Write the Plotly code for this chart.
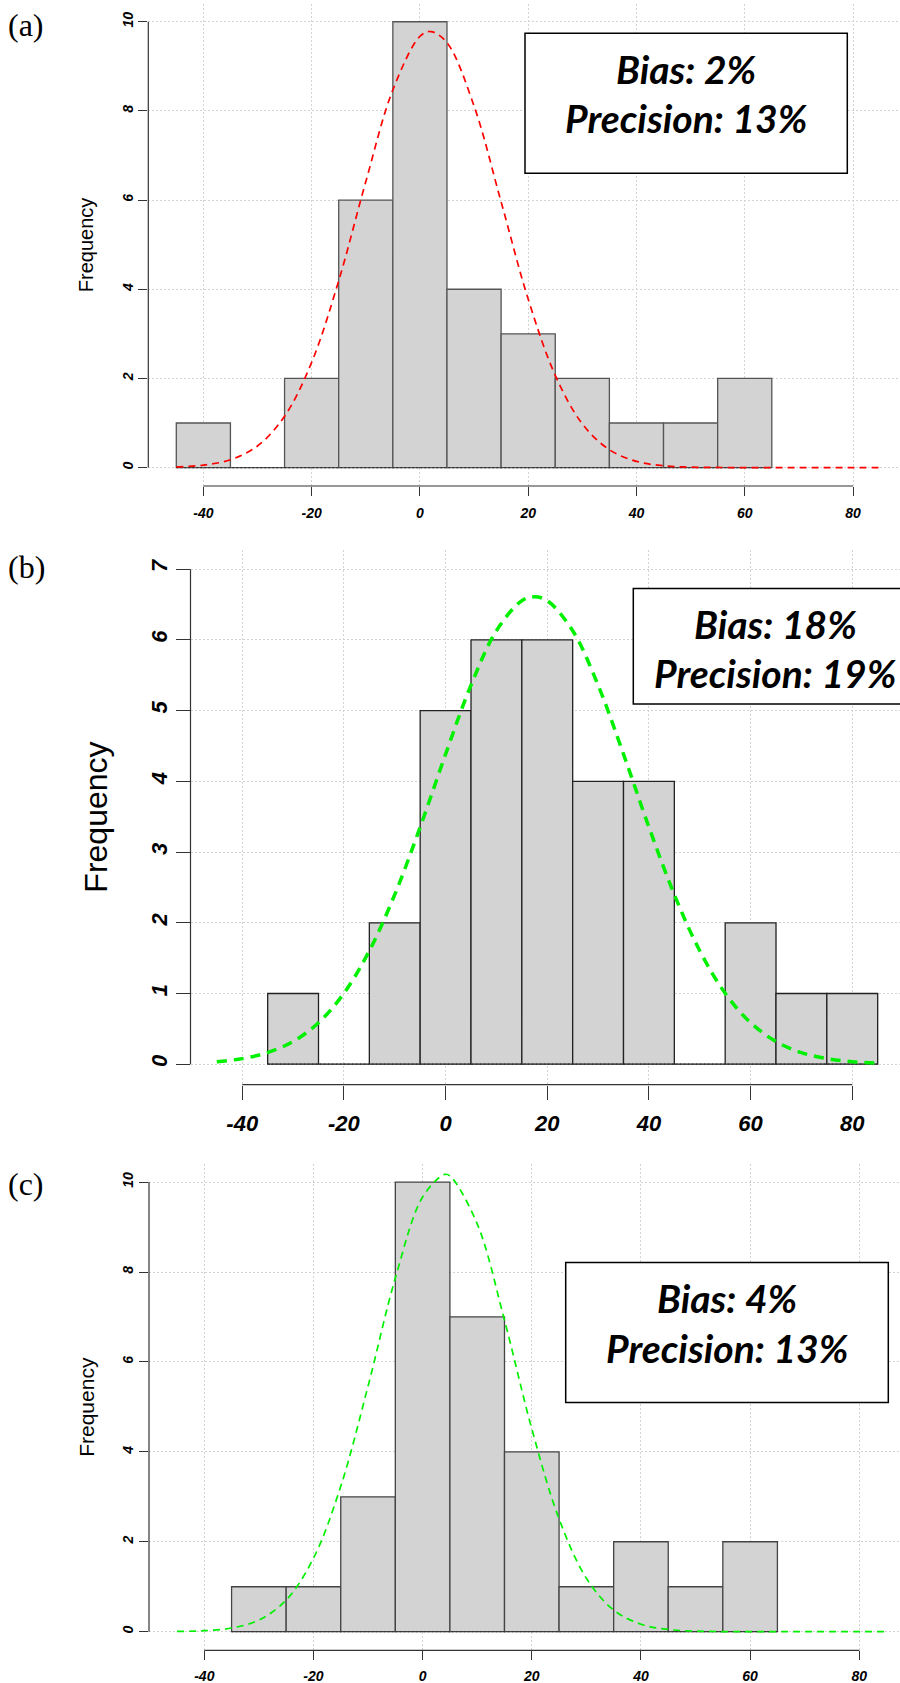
import plotly.graph_objects as go

W, H = 900, 1683

# ---------------- data ----------------
panel_labels = ["(a)", "(b)", "(c)"]
bias_text = ["Bias: 2%", "Bias: 18%", "Bias: 4%"]
precision_text = ["Precision: 13%", "Precision: 19%", "Precision: 13%"]

x_ticks = [-40, -20, 0, 20, 40, 60, 80]
x_tick_labels = ["-40", "-20", "0", "20", "40", "60", "80"]
y_ticks_a = [0, 2, 4, 6, 8, 10]
y_ticks_b = [0, 1, 2, 3, 4, 5, 6, 7]
y_ticks_c = [0, 2, 4, 6, 8, 10]

edges_a = [-45, -35, -25, -15, -5, 5, 15, 25, 35, 45, 55, 65]
counts_a = [1, 0, 2, 6, 10, 4, 3, 2, 1, 1, 2]
edges_b = [-35, -25, -15, -5, 5, 15, 25, 35, 45, 55, 65, 75, 85]
counts_b = [1, 0, 2, 5, 6, 6, 4, 4, 0, 2, 1, 1]
edges_c = [-35, -25, -15, -5, 5, 15, 25, 35, 45, 55, 65]
counts_c = [1, 1, 3, 10, 7, 4, 1, 2, 1, 2]

curve_a_x = [-45, -40, -35, -30, -25, -20, -15, -10, -5, 0, 2, 5, 10, 15, 20, 25, 30,
             35, 40, 45, 50, 55, 60, 65, 70, 75, 80, 85]
curve_a_y = [0.015, 0.055, 0.176, 0.484, 1.15, 2.36, 4.19, 6.41, 8.47, 9.67, 9.78, 9.53,
             8.11, 5.96, 3.78, 2.07, 0.98, 0.40, 0.14, 0.04, 0.01, 0.003, 0, 0, 0, 0, 0, 0]
curve_b_x = [-45, -40, -35, -30, -25, -20, -15, -10, -5, 0, 5, 10, 15, 17.5, 20, 25, 30,
             35, 40, 45, 50, 55, 60, 65, 70, 75, 80, 85]
curve_b_y = [0.035, 0.079, 0.164, 0.321, 0.587, 1.003, 1.604, 2.398, 3.353, 4.384, 5.361,
             6.130, 6.555, 6.61, 6.555, 6.130, 5.361, 4.384, 3.353, 2.398, 1.604, 1.003,
             0.587, 0.321, 0.164, 0.079, 0.035, 0.015]
curve_c_x = [-45, -40, -35, -30, -25, -20, -15, -10, -5, 0, 4, 5, 10, 15, 20, 25, 30,
             35, 40, 45, 50, 55, 60, 65, 70, 75, 80, 85]
curve_c_y = [0.005, 0.022, 0.081, 0.259, 0.704, 1.633, 3.233, 5.459, 7.865, 9.667, 10.17,
             10.138, 9.072, 6.927, 4.512, 2.508, 1.189, 0.481, 0.166, 0.049, 0.012, 0.003,
             0, 0, 0, 0, 0, 0]

# ---------------- styling / layout per panel ----------------
panels = [
    dict(edges=edges_a, counts=counts_a, cx=curve_a_x, cy=curve_a_y, yt=y_ticks_a,
         curve_color="#FF0000", curve_w=1.7, curve_dash="7px,5px", bar_line="#555555",
         xdom=(148.3, 900), xr=(-50.17, 88.68), ydom=(3.9, 486), yr=(-0.413, 10.40),
         tick_size=14, ticklen=9, xlab_pad=5, title_size=20, title_standoff=20,
         label_y=25, box=(525, 33.3, 847.3, 173.3), text_x=686, text_y=(69.2, 118)),
    dict(edges=edges_b, counts=counts_b, cx=curve_b_x, cy=curve_b_y, yt=y_ticks_b,
         curve_color="#00F000", curve_w=3.5, curve_dash="10px,7px", bar_line="#222222",
         xdom=(190.5, 900), xr=(-50.18, 89.39), ydom=(549.5, 1084.6), yr=(-0.2885, 7.279),
         tick_size=22, ticklen=14, xlab_pad=5, title_size=32, title_standoff=29,
         label_y=567, box=(633.3, 588.4, 912, 703.9), text_x=775, text_y=(624.5, 673)),
    dict(edges=edges_c, counts=counts_c, cx=curve_c_x, cy=curve_c_y, yt=y_ticks_c,
         curve_color="#00F000", curve_w=1.7, curve_dash="7px,5px", bar_line="#444444",
         xdom=(149, 900), xr=(-50.13, 87.46), ydom=(1164.1, 1650.3), yr=(-0.414, 10.40),
         tick_size=14, ticklen=9, xlab_pad=4, title_size=21, title_standoff=20,
         label_y=1184, box=(565.7, 1262.6, 888.3, 1402.6), text_x=727, text_y=(1298, 1347.6)),
]

fig = go.Figure()
shapes = []
annotations = []
layout_axes = {}

for i, p in enumerate(panels):
    n = "" if i == 0 else str(i + 1)
    xa, ya = "x" + n, "y" + n
    edges, counts = p["edges"], p["counts"]
    centers = [(edges[k] + edges[k + 1]) / 2 for k in range(len(counts))]
    widths = [edges[k + 1] - edges[k] for k in range(len(counts))]

    fig.add_trace(go.Bar(x=centers, y=counts, width=widths, xaxis=xa, yaxis=ya,
                         marker=dict(color="#D3D3D3", line=dict(color=p["bar_line"], width=1.3)),
                         hoverinfo="skip"))
    fig.add_trace(go.Scatter(x=[edges[0], edges[-1]], y=[0, 0], xaxis=xa, yaxis=ya, mode="lines",
                             line=dict(color="#333333", width=1.2, dash="2px,2px"),
                             hoverinfo="skip"))
    fig.add_trace(go.Scatter(x=p["cx"], y=p["cy"], xaxis=xa, yaxis=ya, mode="lines",
                             line=dict(color=p["curve_color"], width=p["curve_w"],
                                       dash=p["curve_dash"], shape="spline", smoothing=1.0),
                             hoverinfo="skip"))

    tickfont = dict(family="Liberation Sans, Arial", size=p["tick_size"], color="black",
                    weight="bold", style="italic")
    layout_axes["xaxis" + n] = dict(
        domain=[p["xdom"][0] / W, p["xdom"][1] / W], range=list(p["xr"]), anchor=ya,
        automargin=False,
        tickmode="array", tickvals=x_ticks, ticktext=x_tick_labels, tickfont=tickfont,
        ticks="outside", ticklen=p["ticklen"], tickwidth=1, tickcolor="#333333",
        ticklabelstandoff=p["xlab_pad"],
        showline=False, zeroline=False, showgrid=True, gridcolor="#D3D3D3",
        griddash="2px,2px", gridwidth=1, fixedrange=True)
    layout_axes["yaxis" + n] = dict(
        domain=[1 - p["ydom"][1] / H, 1 - p["ydom"][0] / H], range=list(p["yr"]), anchor=xa,
        automargin=False,
        tickmode="array", tickvals=p["yt"], ticktext=[str(v) for v in p["yt"]],
        tickfont=tickfont, tickangle=-90,
        ticks="outside", ticklen=p["ticklen"], tickwidth=1, tickcolor="#333333",
        showline=False, zeroline=False, showgrid=True, gridcolor="#D3D3D3",
        griddash="2px,2px", gridwidth=1, fixedrange=True,
        title=dict(text="Frequency", standoff=p["title_standoff"],
                   font=dict(family="Liberation Sans, Arial", size=p["title_size"], color="black")))

    # R-style axis lines spanning only the tick range
    shapes.append(dict(type="line", xref=xa, yref=ya + " domain", x0=x_ticks[0], x1=x_ticks[-1],
                       y0=0, y1=0, line=dict(color="#333333", width=1.2)))
    shapes.append(dict(type="line", xref=xa + " domain", yref=ya, x0=0, x1=0,
                       y0=p["yt"][0], y1=p["yt"][-1], line=dict(color="#333333", width=1.2)))

    # statistics box
    bx0, by0, bx1, by1 = p["box"]
    shapes.append(dict(type="rect", xref="paper", yref="paper", x0=bx0 / W, x1=bx1 / W,
                       y0=1 - by1 / H, y1=1 - by0 / H, fillcolor="white",
                       line=dict(color="black", width=1.5), layer="above"))
    for txt, ty in zip([bias_text[i], precision_text[i]], p["text_y"]):
        annotations.append(dict(text=txt, xref="paper", yref="paper",
                                x=p["text_x"] / W, y=1 - ty / H,
                                xanchor="center", yanchor="middle", showarrow=False,
                                font=dict(family="Lato, Open Sans, sans-serif", size=39,
                                          color="black", weight="bold", style="italic")))
    annotations.append(dict(text=panel_labels[i], xref="paper", yref="paper", x=6 / W,
                            y=1 - p["label_y"] / H, xanchor="left", yanchor="middle",
                            showarrow=False,
                            font=dict(family="Liberation Serif, Times New Roman", size=32,
                                      color="black")))

fig.update_layout(
    width=W, height=H, margin=dict(l=0, r=0, t=0, b=0),
    paper_bgcolor="white", plot_bgcolor="white", showlegend=False,
    shapes=shapes, annotations=annotations, **layout_axes)

# remove the browser's default 8px body margin so the figure fills the window exactly
fig.write_html("out.html",
               config={"displayModeBar": False},
               post_script="document.body.style.margin='0px';"
                           "document.body.style.overflow='hidden';")
